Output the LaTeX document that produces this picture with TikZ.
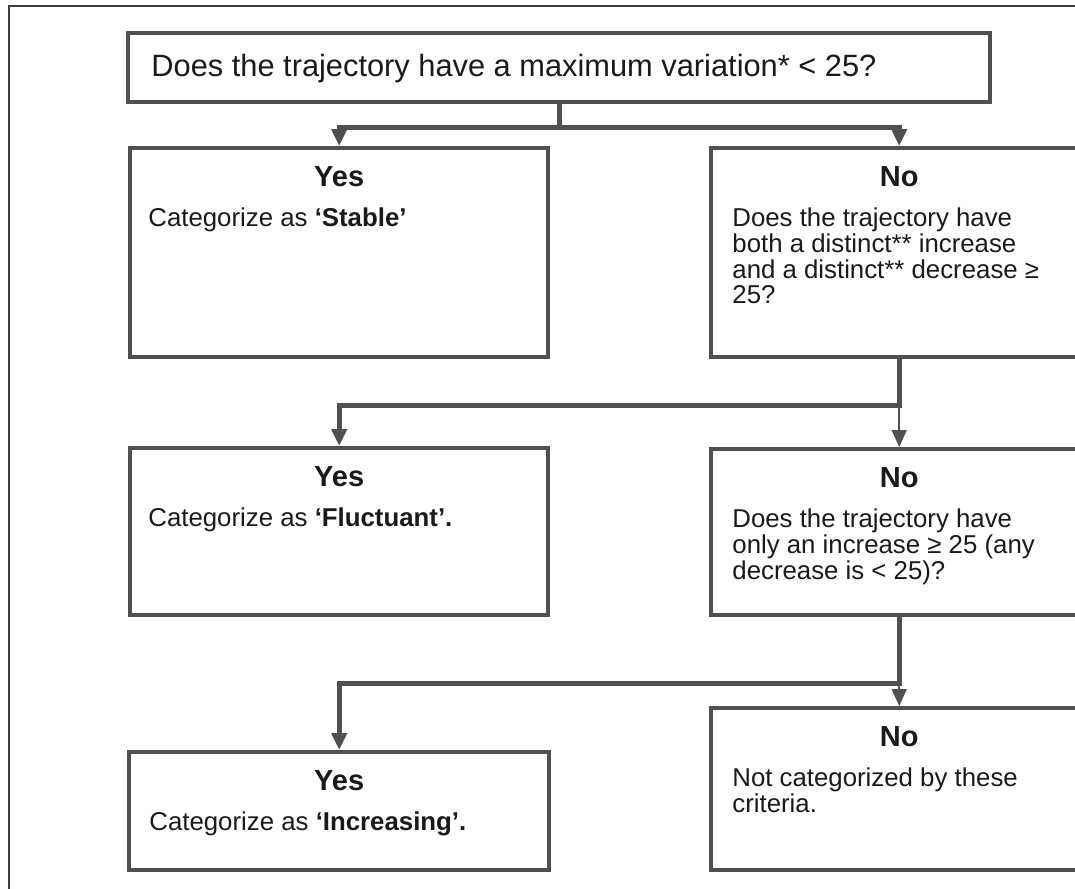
\documentclass[tikz,border=0pt]{standalone}
\usepackage{fontspec}
\setmainfont{Liberation Sans}
\usetikzlibrary{positioning, calc, arrows.meta}
\definecolor{boxgray}{HTML}{505050}
\definecolor{framegray}{HTML}{3C3C3C}
\definecolor{inkblack}{HTML}{1A1A1A}
\newcommand\boxlines[1]{\begin{tabular}{@{}l@{}}#1\end{tabular}}

\begin{document}
\begin{tikzpicture}[x=0.5pt, y=-0.5pt,
    box/.style={draw=boxgray, line width=2.2pt, anchor=north west, inner sep=0pt},
    head/.style={anchor=base, inner sep=0pt, text=inkblack, font=\bfseries\fontsize{14.5pt}{16pt}\selectfont},
    body/.style={anchor=north west, inner sep=0pt, text=inkblack,
      font=\fontsize{12.9pt}{12.25pt}\selectfont},
    trunk/.style={draw=boxgray, line width=2.3pt},
    twig/.style={draw=boxgray, line width=0.8pt},
    tip/.style={-{Triangle[width=7.5pt, length=8.5pt]}}]
  % page size, the picture is cut at right and bottom
  \clip (0,0) rectangle (1075,888);
  \draw[framegray, line width=1pt] (9,900) -- (9,6) -- (1090,6);

  % the question on top
  \node[box, minimum width=862*0.5pt, minimum height=69*0.5pt] (q1) at (126,31) {};
  \node[anchor=base west, inner sep=0pt, text=inkblack, font=\fontsize{15.4pt}{18pt}\selectfont]
    (q1t) at ($(q1.south west)+(25,-28)$) {Does the trajectory have a maximum variation* < 25?};

  % answer boxes, left column yes, right column no
  \node[box, minimum width=418*0.5pt, minimum height=209*0.5pt] (yes1) at (128,146) {};
  \node[box, minimum width=376*0.5pt, minimum height=209*0.5pt] (no1) at (709,146) {};
  \node[box, minimum width=418*0.5pt, minimum height=167*0.5pt] (yes2) at (128,446) {};
  \node[box, minimum width=376*0.5pt, minimum height=166*0.5pt] (no2) at (709,447) {};
  \node[box, minimum width=420*0.5pt, minimum height=118*0.5pt] (yes3) at (127,750) {};
  \node[box, minimum width=376*0.5pt, minimum height=162*0.5pt] (no3) at (709,706) {};

  % headings
  \foreach \b/\h in {yes1/Yes, no1/No, yes2/Yes, no2/No, yes3/Yes, no3/No}{
    \node[head] (\b h) at ($(\b.north)+(0,40)$) {\h};
  }

  % box texts
  \node[body] (yes1t) at ($(yes1.north west)+(20,61)$) {\boxlines{Categorize as \textbf{‘Stable’}}};
  \node[body] (no1t) at ($(no1.north west)+(23,61)$)
    {\boxlines{Does the trajectory have\\both a distinct** increase\\and a distinct** decrease ≥\\25?}};
  \node[body] (yes2t) at ($(yes2.north west)+(20,61)$) {\boxlines{Categorize as \textbf{‘Fluctuant’.}}};
  \node[body] (no2t) at ($(no2.north west)+(23,61)$)
    {\boxlines{Does the trajectory have\\only an increase ≥ 25 (any\\decrease is < 25)?}};
  \node[body] (yes3t) at ($(yes3.north west)+(22,61)$) {\boxlines{Categorize as \textbf{‘Increasing’.}}};
  \node[body] (no3t) at ($(no3.north west)+(23,61)$) {\boxlines{Not categorized by these\\criteria.}};

  % connectors
  \draw[trunk] (q1.south) -- ++(0,23) coordinate (j1);
  \draw[trunk, tip] (j1) -| (yes1.north);
  \draw[trunk, tip] (j1) -| (no1.north);

  \draw[trunk, tip] (no1.south) -- ++(0,46) coordinate (j2) -| (yes2.north);
  \draw[twig, tip] (j2) -- (no2.north);

  \draw[trunk, tip] (no2.south) -- ++(0,66) coordinate (j3) -| (yes3.north);
  \draw[twig, tip] (j3) -- (no3.north);
\end{tikzpicture}
\end{document}
